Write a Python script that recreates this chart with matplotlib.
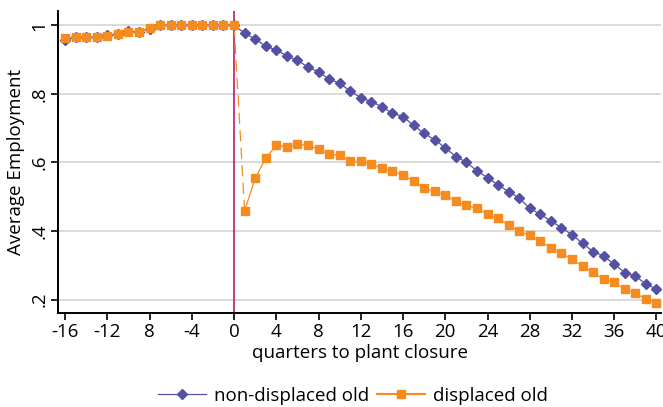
import numpy as np
import matplotlib.pyplot as plt

plt.rcParams['font.family'] = ['Open Sans', 'DejaVu Sans']

# quarters relative to plant closure
quarters = np.arange(-16, 41)

# average employment, non-displaced old workers
non_displaced = [0.956, 0.965, 0.965, 0.966, 0.972, 0.974, 0.982, 0.980, 0.990,
                 1.0, 1.0, 1.0, 1.0, 1.0, 1.0, 1.0, 1.0,
                 0.977, 0.960, 0.939, 0.928, 0.911, 0.898, 0.878, 0.864, 0.843, 0.831,
                 0.808, 0.789, 0.777, 0.763, 0.743, 0.734, 0.708, 0.685, 0.666, 0.643,
                 0.617, 0.601, 0.575, 0.556, 0.534, 0.515, 0.496, 0.466, 0.449, 0.429,
                 0.410, 0.389, 0.364, 0.340, 0.327, 0.303, 0.279, 0.269, 0.245, 0.231]

# average employment, displaced old workers
displaced = [0.964, 0.965, 0.965, 0.965, 0.969, 0.974, 0.981, 0.980, 0.991,
             1.0, 1.0, 1.0, 1.0, 1.0, 1.0, 1.0, 1.0,
             0.459, 0.554, 0.612, 0.650, 0.645, 0.653, 0.650, 0.639, 0.624, 0.621,
             0.603, 0.603, 0.595, 0.583, 0.574, 0.563, 0.545, 0.525, 0.516, 0.504,
             0.487, 0.475, 0.466, 0.449, 0.437, 0.417, 0.399, 0.388, 0.370, 0.350,
             0.335, 0.318, 0.297, 0.280, 0.259, 0.251, 0.230, 0.219, 0.201, 0.190]

xticks = [-16, -12, -8, -4, 0, 4, 8, 12, 16, 20, 24, 28, 32, 36, 40]
xtick_labels = ['-16', '-12', '8', '-4', '0', '4', '8', '12', '16', '20', '24', '28', '32', '36', '40']
yticks = [0.2, 0.4, 0.6, 0.8, 1.0]
ytick_labels = ['.2', '.4', '.6', '.8', '1']

blue = '#5451a4'
orange = '#f68b1f'
fs = 13.5

fig = plt.figure(figsize=(6.63, 4.07), dpi=100)
ax = fig.add_axes([0.0875, 0.2302, 0.9095, 0.743])

ax.axvline(0, color='#c2186a', lw=1.2, zorder=1)

ax.plot(quarters, non_displaced, color=blue, lw=0.9, marker='D', ms=5.5,
        mec=blue, mfc=blue, zorder=3, label='non-displaced old')

pre = quarters <= 0
post = quarters >= 1
d = np.array(displaced)
ax.plot(quarters[pre], d[pre], color=orange, lw=0.9, marker='s', ms=5.5, zorder=4)
ax.plot(quarters[post], d[post], color=orange, lw=0.9, marker='s', ms=5.5, zorder=4)
# jump at closure drawn dashed
ax.plot([0, 1], [d[quarters == 0][0], d[quarters == 1][0]], color=orange, lw=0.9,
        ls=(0, (9, 5)), zorder=2)
ax.plot([], [], color=orange, lw=1.5, marker='s', ms=5.5, label='displaced old')

ax.set_xlim(-16.67, 40.43)
ax.set_ylim(0.16, 1.042)
ax.set_xticks(xticks)
ax.set_xticklabels(xtick_labels)
ax.set_yticks(yticks)
ax.set_yticklabels(ytick_labels, rotation=90, va='center')
ax.yaxis.grid(True, color='#d8d8d8', lw=1.3)
ax.set_axisbelow(True)

for s in ['top', 'right']:
    ax.spines[s].set_visible(False)
for s in ['left', 'bottom']:
    ax.spines[s].set_linewidth(1.4)
ax.tick_params(axis='both', length=5, width=1.2, labelsize=fs, direction='out', pad=2)

ax.set_xlabel('quarters to plant closure', fontsize=fs, labelpad=2)
ax.set_ylabel('Average Employment', fontsize=fs, labelpad=4)

fig.legend(loc='center', bbox_to_anchor=(0.532, 0.027), ncol=2, frameon=False,
           fontsize=fs, handlelength=2.6, columnspacing=0.4, handletextpad=0.4)

fig.savefig('out.png', dpi=100)
